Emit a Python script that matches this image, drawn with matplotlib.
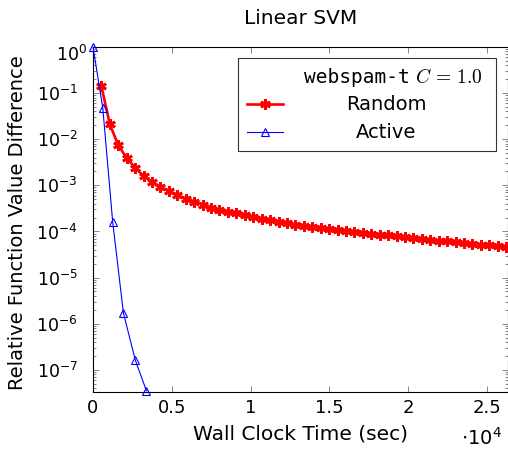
import numpy as np
import matplotlib
matplotlib.use('Agg')
import matplotlib.pyplot as plt
from matplotlib.ticker import (LogLocator, FuncFormatter, NullFormatter, MultipleLocator,
                               FixedLocator)
from matplotlib.patches import Rectangle

plt.rcParams['font.family'] = 'DejaVu Sans'
plt.rcParams['mathtext.fontset'] = 'dejavusans'

# Random sampling
random_x = [535, 1070, 1605, 2140, 2675, 3210, 3745, 4280, 4815, 5350,
            5885, 6420, 6955, 7490, 8025, 8560, 9095, 9630, 10165, 10700,
            11235, 11770, 12305, 12840, 13375, 13910, 14445, 14980, 15515, 16050,
            16585, 17120, 17655, 18190, 18725, 19260, 19795, 20330, 20865, 21400,
            21935, 22470, 23005, 23540, 24075, 24610, 25145, 25680, 26215]
random_y = [0.14, 0.021, 7.4e-3, 3.9e-3, 2.4e-3, 1.6e-3, 1.2e-3, 9.1e-4, 7.6e-4, 6.2e-4,
            5.1e-4, 4.4e-4, 3.8e-4, 3.3e-4, 2.9e-4, 2.7e-4, 2.5e-4, 2.3e-4, 2.1e-4, 1.9e-4,
            1.75e-4, 1.62e-4, 1.5e-4, 1.4e-4, 1.33e-4, 1.26e-4, 1.19e-4, 1.13e-4, 1.07e-4, 1.02e-4,
            9.7e-5, 9.2e-5, 8.8e-5, 8.5e-5, 8.2e-5, 7.9e-5, 7.5e-5, 7.2e-5, 6.9e-5, 6.6e-5,
            6.3e-5, 6.1e-5, 5.9e-5, 5.6e-5, 5.4e-5, 5.2e-5, 5.0e-5, 4.85e-5, 4.7e-5]

# Active sampling
active_x = [0, 620, 1250, 1930, 2690, 3390]
active_y = [1.0, 0.048, 1.6e-4, 1.7e-6, 1.6e-7, 3.5e-8]

series_labels = ['Random', 'Active']
legend_title = ('webspam-t', r'$C\,=\,1.0$')
y_decades = [1e-7, 1e-6, 1e-5, 1e-4, 1e-3, 1e-2, 1e-1, 1.0]

FS = 14
W, H = 508, 455
AX_L, AX_R, AX_T, AX_B = 93, 507.5, 47, 392

fig = plt.figure(figsize=(W / 100, H / 100), dpi=100)
ax = fig.add_axes([AX_L / W, (H - AX_B) / H, (AX_R - AX_L) / W, (AX_B - AX_T) / H])

def px(x, y):
    # figure pixel (from top-left) -> axes fraction
    return (x - AX_L) / (AX_R - AX_L), (AX_B - y) / (AX_B - AX_T)

red_style = dict(color='red', lw=1.9, marker=(6, 2, 0), ms=7.5, mew=2.0)
blue_style = dict(color='blue', lw=0.8, marker='^', ms=6, mfc='none', mew=0.8)

ax.plot(random_x, random_y, clip_on=False, zorder=3, **red_style)
ax.plot(active_x, active_y, clip_on=False, zorder=4, **blue_style)

ax.set_yscale('log')
ax.set_xlim(0, 26300)
ax.set_ylim(3.3e-8, 1.0)

def ylab(v, p):
    e = int(round(np.log10(v)))
    if e >= 0:
        return ''  # 10^0 placed by hand, pgfplots nudges it off the corner
    return rf'$10^{{{e}}}$'

ax.xaxis.set_major_locator(MultipleLocator(5000))
ax.xaxis.set_major_formatter(FuncFormatter(lambda v, p: f'{v/1e4:g}'))
ax.yaxis.set_major_locator(FixedLocator(y_decades))
ax.yaxis.set_major_formatter(FuncFormatter(ylab))
ax.yaxis.set_minor_locator(LogLocator(base=10, subs=np.arange(2, 10), numticks=20))
ax.yaxis.set_minor_formatter(NullFormatter())

ax.tick_params(which='both', direction='in', top=True, right=True, color='0.45', width=0.6)
ax.tick_params(axis='x', labelsize=13)
ax.tick_params(axis='y', labelsize=12.5)
ax.tick_params(which='major', length=4.5)
ax.tick_params(axis='x', which='major', pad=5)
ax.tick_params(axis='y', which='major', pad=11)
ax.tick_params(which='minor', length=2.5)
for s in ax.spines.values():
    s.set_linewidth(0.8)
ax.xaxis.offsetText.set_visible(False)
ax.yaxis.offsetText.set_visible(False)

ax.text(*px(87, 55), r'$10^{0}$', transform=ax.transAxes, ha='right', va='center',
        fontsize=12.5)

fig.text(0.5 * (AX_L + AX_R) / W, 1 - 18 / H, 'Linear SVM', ha='center', va='center',
         fontsize=14.5)
ax.set_xlabel('Wall Clock Time (sec)', fontsize=14.5)
ax.xaxis.set_label_coords(0.5, px(0, 425)[1])
ax.set_ylabel('Relative Function Value Difference', fontsize=14)
ax.yaxis.set_label_coords(px(27, 0)[0], 0.49)
ax.text(*px(502, 438), r'$\cdot10^4$', transform=ax.transAxes, ha='right', va='center',
        fontsize=FS)

# legend box drawn by hand to match the pgfplots layout
x0, y0 = px(238, 151)
x1, y1 = px(496, 58)
ax.add_patch(Rectangle((x0, y0), x1 - x0, y1 - y0, transform=ax.transAxes, fill=True,
                       facecolor='white', edgecolor='0.2', lw=0.8, zorder=5, clip_on=False))

tc = ax.text(*px(483, 77), legend_title[1], transform=ax.transAxes, ha='right', va='center',
             fontsize=FS, math_fontfamily='cm', zorder=6)
fig.canvas.draw()
bb = tc.get_window_extent(fig.canvas.get_renderer())
fig.text((bb.x0 - 6) / W, 1 - 77 / H, legend_title[0], ha='right', va='center',
         fontsize=FS, family='DejaVu Sans Mono', zorder=6)

for lab, style, yy in zip(series_labels, [red_style, blue_style], [104, 132]):
    hx = [px(247, yy)[0], px(283, yy)[0]]
    hy = [px(0, yy)[1]] * 2
    line_kw = {k: v for k, v in style.items() if k != 'marker'}
    mark_kw = {k: v for k, v in style.items() if k != 'lw'}
    ax.plot(hx, hy, transform=ax.transAxes, clip_on=False, zorder=6, **line_kw)
    ax.plot([sum(hx) / 2], [hy[0]], transform=ax.transAxes, clip_on=False, zorder=7,
            linestyle='none', **mark_kw)
    ax.text(px(386, yy)[0], hy[0], lab, transform=ax.transAxes, ha='center', va='center',
            fontsize=FS, zorder=6)

fig.savefig('out.png', dpi=100)
